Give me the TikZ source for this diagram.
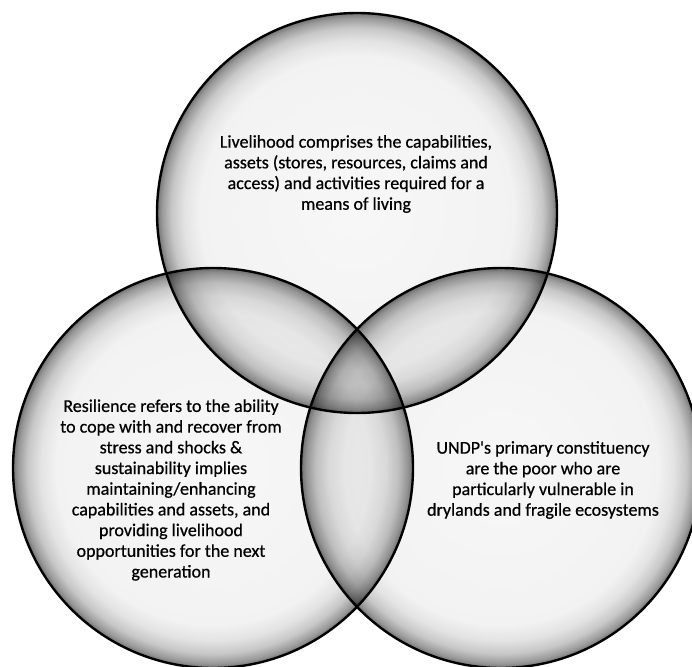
\documentclass[tikz,border=0pt]{standalone}
\usepackage{fontspec}
\setmainfont{Carlito}
\newfontfamily\capfont{Carlito}[FakeBold=0.6]
% soft rim: light interior, darkening towards the outline
\pgfdeclareradialshading{bubble}{\pgfpoint{0bp}{0bp}}{%
  color(0bp)=(black!3); color(19.6bp)=(black!5); color(21.6bp)=(black!11);
  color(23.2bp)=(black!22); color(24.4bp)=(black!40); color(25.2bp)=(black!60);
  color(25.8bp)=(black!74); color(50bp)=(black!74)}
\tikzset{
  ring/.style={circle, minimum size=400pt, inner sep=0pt, outer sep=0pt,
    shading=bubble, draw=black, line width=2.4pt},
  caption/.style={align=center, font=\capfont\fontsize{18}{20.7}\selectfont, inner sep=0pt}
}
\begin{document}
\begin{tikzpicture}[x=1pt,y=-1pt]
\useasboundingbox (0,0) rectangle (692,666);
\fill[white] (0,0) rectangle (692,666);
\begin{scope}[blend group=multiply]
  \node[ring] (livelihood) at (357,213) {};
  \node[ring] (resilience) at (213,468) {};
  \node[ring] (constituency) at (501,468) {};
\end{scope}
\node[caption] (livtext) at (356,174) {Livelihood comprises the capabilities,\\assets (stores, resources, claims and\\access) and activities required for a\\means of living};
\node[caption] (restext) at (171,490) {Resilience refers to the ability\\to cope with and recover from\\stress and shocks \&\\sustainability implies\\maintaining/enhancing\\capabilities and assets, and\\providing livelihood\\opportunities for the next\\generation};
\node[caption] (context) at (543,480) {UNDP's primary constituency\\are the poor who are\\particularly vulnerable in\\drylands and fragile ecosystems};
\end{tikzpicture}
\end{document}
